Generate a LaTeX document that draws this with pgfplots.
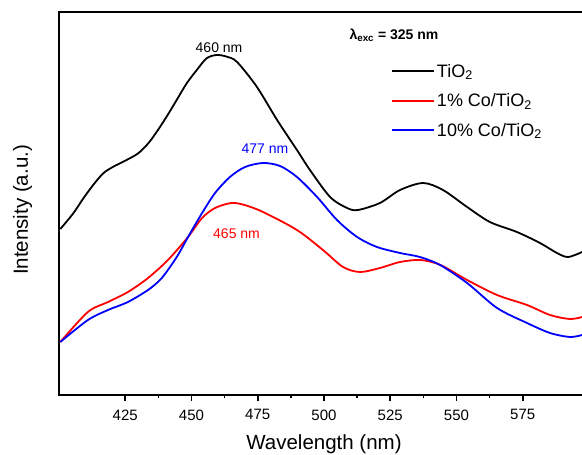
\documentclass[border=0pt]{standalone}
\usepackage{pgfplots}
\pgfplotsset{compat=1.18}
\usepackage{fontspec}
\setmainfont{Liberation Sans}
\begin{document}
\begin{tikzpicture}
\useasboundingbox (-59pt,-60pt) rectangle (523pt,395pt);
\begin{axis}[
  at={(0,0)}, anchor=south west,
  scale only axis,
  width=530pt, height=383pt,
  xmin=400, xmax=600, ymin=0, ymax=383,
  xtick={425,450,475,500,525,550,575},
  minor x tick num=1,
  ytick=\empty,
  tick align=outside,
  xtick pos=bottom,
  major tick length=6pt,
  minor tick length=3.5pt,
  every tick/.style={black, line width=1.6pt},
  axis line style={line width=2.5pt},
  /pgf/number format/assume math mode=true,
  xticklabel style={font=\fontsize{15}{15}\selectfont, yshift=-5pt},
  clip=true,
  legend style={draw=none, fill=none, at={(rel axis cs:0.6264,0.87)}, anchor=north west,
    font=\fontsize{18}{18}\selectfont, row sep=11pt, inner sep=0pt},
  legend cell align=left,
  legend image code/.code={\draw[#1, line width=1.8pt] (0pt,0pt) -- (42pt,0pt);},
]
\addplot[black, line width=1.8pt, smooth] coordinates {
(400.5,166) (405.4,181.7) (409.2,196.7) (412.9,210) (416.7,221.7) (420.5,228.3)
(425.5,235) (429.9,241.7) (433.7,251.7) (436.9,263.3) (440.6,278.3) (444.4,295)
(448.2,311.7) (452,325) (455.7,336.7) (459.5,340) (463.3,338.3) (467.2,333) (474.7,308) (482.3,275)
(489.8,245) (494.7,225) (502.3,198) (508.7,187) (512.8,185) (521.1,192) (528.7,205)
(537.4,212) (544.9,205) (554,188) (562.6,173) (572.8,163) (581.5,152) (587.9,142)
(592.1,138) (597.4,143)
};
\addlegendentry{TiO\textsubscript{2}}
\addplot[red, line width=1.8pt, smooth] coordinates {
(400.5,53) (410.9,83) (418.5,93) (426,103) (433.6,117) (441.1,135) (448.7,158)
(454,177) (458.9,187) (465,192) (470,190) (477,183) (489.8,165) (499.6,145) (507.2,128)
(513.6,123) (521.1,127) (528.7,133) (536.4,135) (544,130) (554,115) (565.3,100)
(576.6,90) (585.3,80) (592.8,76) (597.4,78)
};
\addlegendentry{1\% Co/TiO\textsubscript{2}}
\addplot[blue, line width=1.8pt, smooth] coordinates {
(400.5,53) (410.9,75) (418.5,85) (426,93) (433.6,105) (438.1,115) (441.1,125)
(444.9,140) (448.7,158) (454,182) (458.9,202) (464.5,218) (470.2,228) (477,232)
(483.4,229) (489.8,218) (497.4,198)
(504.9,175) (512.5,158) (520,148) (528.7,142) (536.2,138) (543.8,130) (554,112)
(565.3,87) (576.6,72) (585.3,62) (592.8,58) (597.4,60)
};
\addlegendentry{10\% Co/TiO\textsubscript{2}}
\node[black, font=\fontsize{14}{14}\selectfont] at (axis cs:460.4,347) {460 nm};
\node[blue, font=\fontsize{14}{14}\selectfont] at (axis cs:477.7,246) {477 nm};
\node[red, font=\fontsize{14}{14}\selectfont] at (axis cs:467,161) {465 nm};
\node[black, font=\bfseries\fontsize{14}{14}\selectfont] at (axis cs:526.4,360) {λ\textsubscript{exc} = 325 nm};
\end{axis}
\node[anchor=base, font=\fontsize{20.5}{20.5}\selectfont] at (265pt,-54.5pt) {Wavelength (nm)};
\node[anchor=base, rotate=90, font=\fontsize{20.5}{20.5}\selectfont] at (-31pt,185pt) {Intensity (a.u.)};
\end{tikzpicture}
\end{document}
